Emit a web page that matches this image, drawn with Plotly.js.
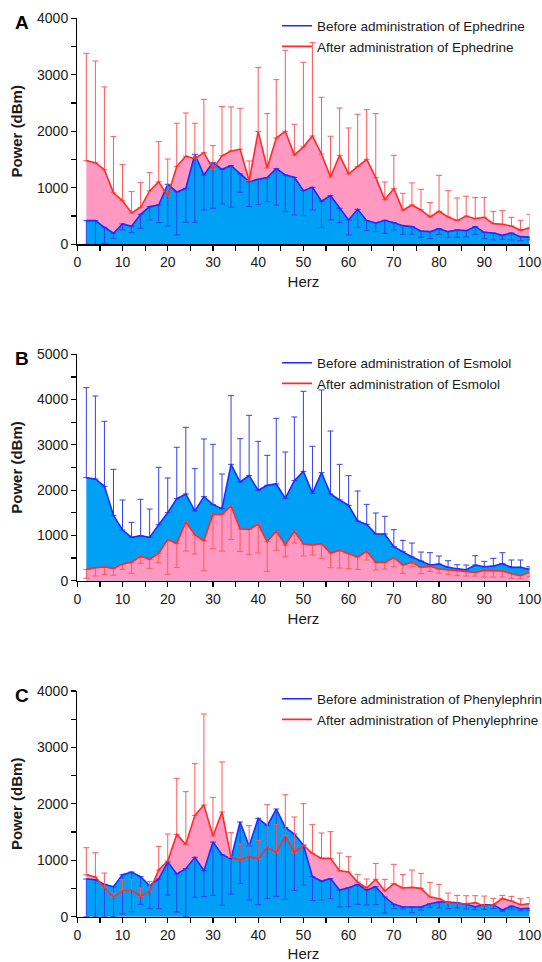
<!DOCTYPE html>
<html><head><meta charset="utf-8">
<script src="https://cdn.plot.ly/plotly-3.0.1.min.js"></script>
<style>html,body{margin:0;padding:0;background:#fff;} #chart{width:542px;height:962px;}</style>
</head><body><div id="chart"></div>
<script>
// ---- data ----
const herz = [2,4,6,8,10,12,14,16,18,20,22,24,26,28,30,32,34,36,38,40,42,44,46,48,50,
              52,54,56,58,60,62,64,66,68,70,72,74,76,78,80,82,84,86,88,90,92,94,96,98,100];
const xTicks = [0,10,20,30,40,50,60,70,80,90,100];

// Panel A – Ephedrine
const A_before    = [419,419,301,195,360,319,531,667,696,1062,926,991,1593,1227,1445,1327,1392,1245,1109,1150,1180,1339,1227,1186,950,1009,761,861,637,431,619,419,378,425,383,330,313,236,224,277,224,254,242,313,212,200,159,200,136,130];
const A_before_lo = [0,0,20,106,254,206,283,431,383,324,165,389,389,608,637,714,655,920,667,702,755,696,578,519,507,608,295,431,383,165,301,242,224,195,254,177,177,124,100,171,124,124,130,177,100,77,88,77,65,77];
const A_after     = [1480,1445,1320,910,770,555,655,945,1105,855,1380,1560,1516,1622,1330,1565,1652,1681,1125,1994,1350,1880,2000,1580,1725,1917,1599,1190,1575,1245,1375,1504,1180,790,985,602,696,608,484,584,484,419,501,454,478,366,354,324,248,289];
const A_after_hi  = [3380,3245,2785,1906,1410,932,1091,1268,1817,1510,2142,2324,2142,2566,1746,2437,2431,2407,1475,3127,2313,2914,3434,2124,3221,3569,2602,1912,2413,2059,2301,2383,2313,1103,1575,903,1086,973,737,1221,950,820,850,826,826,584,596,478,425,531];

// Panel B – Esmolol
const B_before    = [2275,2246,2084,1443,1119,957,994,957,1237,1502,1811,1915,1539,1856,1679,1591,2570,2180,2320,1996,2106,2136,1819,2209,2415,1929,2386,1915,1782,1664,1318,1244,1031,1031,751,641,523,434,346,368,295,265,243,346,309,324,376,295,295,250];
const B_before_hi = [4264,4080,3520,2460,1782,1289,1797,1583,2504,2268,2946,3387,2474,3130,3012,2356,4087,3137,3652,3078,2769,3586,2842,3616,4183,2968,4212,3306,2570,2320,1981,1686,1495,1421,1127,891,832,633,619,545,442,353,346,552,427,493,619,457,457,309];
const B_after     = [250,287,302,272,368,405,538,471,604,906,825,1296,1009,884,1465,1465,1649,1141,1134,1244,862,1090,788,1090,810,788,817,611,670,596,523,648,405,405,508,346,405,295,317,258,243,221,199,184,228,228,214,155,110,184];
const B_after_lo  = [52,103,133,118,250,162,383,272,398,140,295,655,589,221,707,655,913,648,582,611,206,670,530,832,545,567,493,287,280,265,250,457,236,258,309,162,317,155,206,169,140,110,103,103,81,81,81,52,44,88];

// Panel C – Phenylephrine
const C_before    = [668,656,573,532,744,792,709,549,668,969,756,851,1052,815,1323,1099,1028,1678,1253,1743,1613,1908,1583,1465,1270,709,632,674,473,514,573,473,532,349,219,171,171,171,230,260,260,248,219,177,213,213,118,189,142,148];
const C_before_lo = [0,0,0,0,47,89,219,142,142,384,83,0,343,355,378,201,402,591,295,213,325,360,307,467,558,284,295,319,171,177,219,207,213,65,142,136,71,118,165,154,142,154,136,124,130,142,95,130,106,106];
const C_after     = [744,703,514,349,455,473,360,455,827,987,1459,1282,1796,1979,1430,1855,1052,1004,1069,1016,1229,1134,1430,1134,1264,1123,1034,1034,815,792,614,508,662,455,585,508,520,502,349,319,248,230,230,248,195,213,319,278,213,230];
const C_after_hi  = [1223,1134,774,420,656,656,508,626,1247,1465,2452,2216,2712,3592,2115,2742,1489,1288,1613,1353,1985,1631,2162,1767,2003,1631,1483,1507,1128,1064,750,668,945,662,928,750,827,768,609,573,419,378,372,372,366,325,378,360,319,337];

const drugs = ['Ephedrine','Esmolol','Phenylephrine'];
const letters = ['A','B','C'];

// ---- styling ----
const FONT = 'Liberation Sans, Arial, sans-serif';
const BLUE_FILL = '#00A0F6', PINK_FILL = '#FF99C2';
const BLUE_LINE = '#1F2BFF', RED_LINE = '#FF2A2A';
const BLUE_ERR = '#3340F0', RED_ERR = '#FF5A5A';
const W = 542, H = 962;

const panels = [
  {before:A_before, bErr:{lo:A_before_lo}, after:A_after, aErr:{hi:A_after_hi}, ymax:4000, top:18.3, bottom:244.3, blueFirst:false, leg:10.5},
  {before:B_before, bErr:{hi:B_before_hi}, after:B_after, aErr:{lo:B_after_lo}, ymax:5000, top:354.3, bottom:580.7, blueFirst:true,  leg:347.5},
  {before:C_before, bErr:{lo:C_before_lo}, after:C_after, aErr:{hi:C_after_hi}, ymax:4000, top:691, bottom:916.7, blueFirst:false, leg:683.5}
];

function errSpec(vals, e, color){
  const up = e.hi ? e.hi.map((h,i)=>Math.max(0,h-vals[i])) : vals.map(()=>0);
  const dn = e.lo ? e.lo.map((l,i)=>Math.max(0,vals[i]-l)) : vals.map(()=>0);
  return {type:'data', symmetric:false, array:up, arrayminus:dn, color:color, thickness:1, width:3};
}

const traces = [];
const layout = {
  width:W, height:H, paper_bgcolor:'#fff', plot_bgcolor:'rgba(0,0,0,0)',
  margin:{l:0,r:0,t:0,b:0, autoexpand:false},
  font:{family:FONT, color:'#1a1a1a'},
  showlegend:true, annotations:[]
};

panels.forEach((p,k)=>{
  const n = k===0 ? '' : String(k+1);
  const xa = 'x'+n, ya = 'y'+n;
  const legName = 'legend'+n;
  const blueFill = {x:herz, y:p.before, xaxis:xa, yaxis:ya, type:'scatter', mode:'lines', fill:'tozeroy',
                    fillcolor:BLUE_FILL, line:{width:0, color:BLUE_FILL}, showlegend:false, hoverinfo:'skip'};
  const pinkFill = {x:herz, y:p.after, xaxis:xa, yaxis:ya, type:'scatter', mode:'lines', fill:'tozeroy',
                    fillcolor:PINK_FILL, line:{width:0, color:PINK_FILL}, showlegend:false, hoverinfo:'skip'};
  if(p.blueFirst){ traces.push(blueFill, pinkFill); } else { traces.push(pinkFill, blueFill); }
  traces.push({x:herz, y:p.before, xaxis:xa, yaxis:ya, type:'scatter', mode:'lines',
               name:'Before administration of '+drugs[k], legend:legName,
               line:{color:BLUE_LINE, width:1.6}, error_y:errSpec(p.before, p.bErr, BLUE_ERR)});
  traces.push({x:herz, y:p.after, xaxis:xa, yaxis:ya, type:'scatter', mode:'lines',
               name:'After administration of '+drugs[k], legend:legName,
               line:{color:RED_LINE, width:1.6}, error_y:errSpec(p.after, p.aErr, RED_ERR)});

  const axisCommon = {showline:true, linecolor:'#000', linewidth:1.3, ticks:'outside', ticklen:5, tickwidth:1.2,
                      tickcolor:'#000', showgrid:false, zeroline:false, fixedrange:true,
                      tickfont:{family:FONT, size:14, color:'#1a1a1a'}};
  layout['xaxis'+n] = Object.assign({}, axisCommon, {
    domain:[77.3/W, 529.5/W], anchor:ya, range:[0,100], tickvals:xTicks,
    minor:{dtick:5, tick0:0, ticks:'outside', ticklen:5, tickwidth:1.2, tickcolor:'#000'},
    title:{text:'Herz', font:{family:FONT, size:15, color:'#1a1a1a'}, standoff:7}
  });
  layout['yaxis'+n] = Object.assign({}, axisCommon, {
    domain:[1-p.bottom/H, 1-p.top/H], anchor:xa, range:[0,p.ymax], dtick:1000, tick0:0,
    minor:{dtick:500, ticks:'outside', ticklen:5, tickwidth:1.2, tickcolor:'#000'},
    title:{text:'Power (dBm)', font:{family:FONT, size:15, color:'#1a1a1a', weight:'bold'}, standoff:10}
  });
  layout[legName] = {x:277/W, xanchor:'left', y:1-p.leg/H, yanchor:'top', bgcolor:'rgba(0,0,0,0)',
                     borderwidth:0, font:{family:FONT, size:13.5, color:'#1a1a1a'}, traceorder:'normal'};
  layout.annotations.push({text:'<b>'+letters[k]+'</b>', xref:'paper', yref:'paper', x:21.6/W,
                           y:1-(p.top+4.5)/H, xanchor:'center', yanchor:'middle', showarrow:false,
                           font:{family:FONT, size:19, color:'#000'}});
});

Plotly.newPlot('chart', traces, layout, {displayModeBar:false, staticPlot:true});
</script>
</body></html>
